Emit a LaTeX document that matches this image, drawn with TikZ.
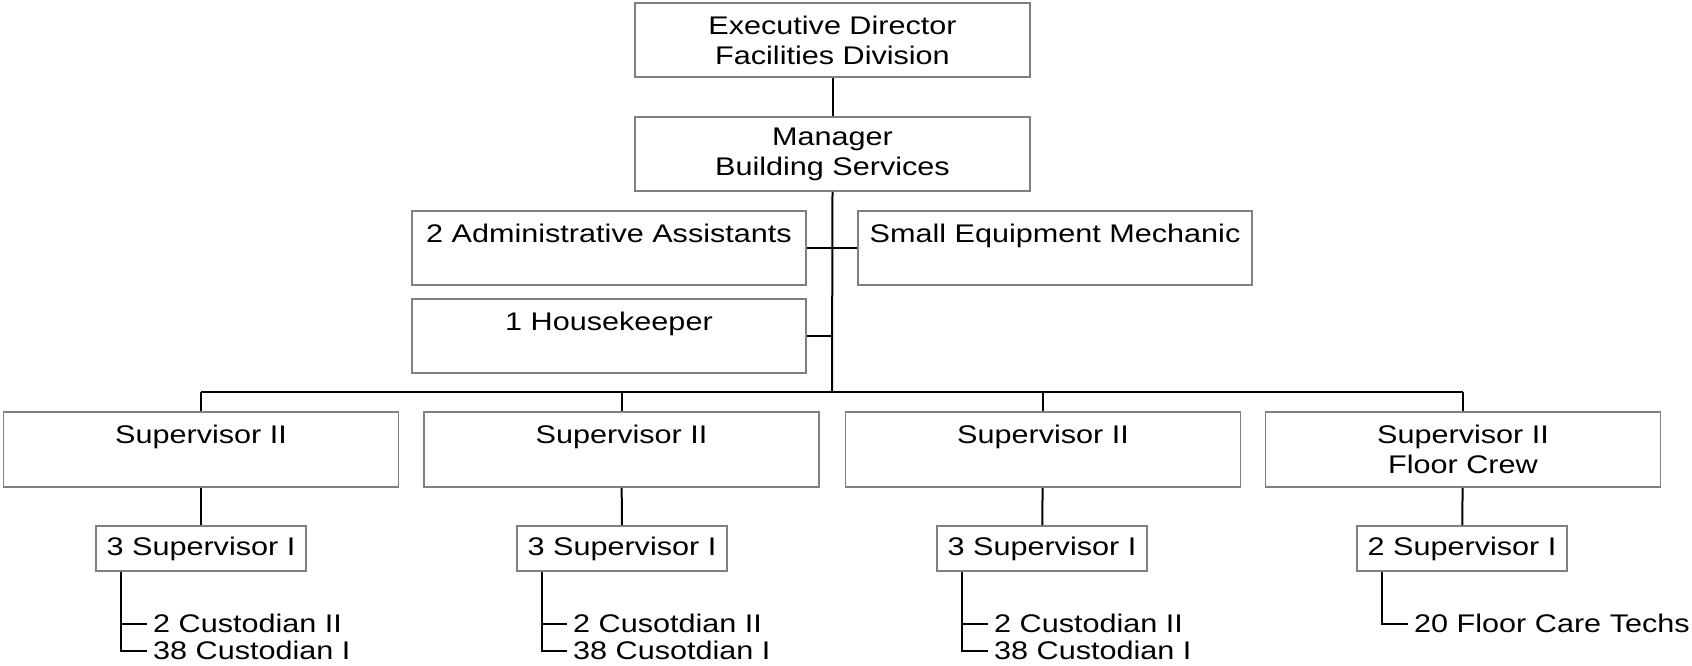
\documentclass[tikz,border=0pt]{standalone}
\usepackage{fontspec}
\setmainfont{Liberation Sans}[FakeStretch=1.2]
\usetikzlibrary{calc}
\definecolor{boxgray}{HTML}{808080}
\begin{document}
\begin{tikzpicture}[x=1pt,y=1pt,
  every node/.style={font=\fontsize{25.5}{30}\selectfont, text=black},
  orgbox/.style={draw=boxgray, line width=1.8pt, fill=white, inner sep=0pt,
                 align=center, minimum width=395, minimum height=74},
  smallbox/.style={draw=boxgray, line width=1.8pt, fill=white, inner sep=0pt,
                   align=center, minimum width=210, minimum height=45},
  leaf/.style={anchor=west, inner xsep=6pt, inner ysep=0pt, text height=16pt, text depth=0pt},
  link/.style={draw=black, line width=2pt}]
\useasboundingbox (0,0) rectangle (1692,-665);

% top of the chart
\node[orgbox] (exec) at (832.5,-40) {Executive Director\\Facilities Division};
\node[orgbox] (mgr)  at (832.5,-154) {Manager\\Building Services};

% staff attached to the manager
\node[orgbox, minimum width=394] (admin) at (609,-248) {2 Administrative Assistants\\\mbox{}};
\node[orgbox, minimum width=394] (hk)    at (609,-336) {1 Housekeeper\\\mbox{}};
\node[orgbox, minimum width=394] (sem)   at (1055,-248) {Small Equipment Mechanic\\\mbox{}};

% supervisors II
\node[orgbox, minimum height=75] (s1) at (201,-449.5)  {Supervisor II\\\mbox{}};
\node[orgbox, minimum height=75] (s2) at (621.5,-449.5) {Supervisor II\\\mbox{}};
\node[orgbox, minimum height=75] (s3) at (1043,-449.5) {Supervisor II\\\mbox{}};
\node[orgbox, minimum height=75] (s4) at (1463,-449.5) {Supervisor II\\Floor Crew};

% supervisors I
\node[smallbox] (t1) at (201,-548.5)  {3 Supervisor I};
\node[smallbox] (t2) at (622,-548.5)  {3 Supervisor I};
\node[smallbox] (t3) at (1042,-548.5) {3 Supervisor I};
\node[smallbox] (t4) at (1462,-548.5) {2 Supervisor I};

% staff lists
\node[leaf] (c1a) at (147,-624) {2 Custodian II};
\node[leaf] (c1b) at (147,-651) {38 Custodian I};
\node[leaf] (c2a) at (567,-624) {2 Cusotdian II};
\node[leaf] (c2b) at (567,-651) {38 Cusotdian I};
\node[leaf] (c3a) at (988,-624) {2 Custodian II};
\node[leaf] (c3b) at (988,-651) {38 Custodian I};
\node[leaf] (c4a) at (1408,-624) {20 Floor Care Techs};

% trunk and bus
\coordinate (bus) at (832,-392);
\draw[link] (exec) -- (mgr);
\draw[link] (mgr.south) -- (bus);
\draw[link] (admin.east) -- (sem.west);
\draw[link] (hk.east) -- (hk.east -| bus);
\draw[link] (bus -| s1.north) -- (bus -| s4.north);
\foreach \s in {s1,s2,s3,s4} \draw[link] (bus -| \s.north) -- (\s.north);

% supervisor II to supervisor I
\foreach \s/\t in {s1/t1,s2/t2,s3/t3,s4/t4} \draw[link] (\s) -- (\t);

% branches to the staff lists
\foreach \t/\a/\b in {t1/c1a/c1b,t2/c2a/c2b,t3/c3a/c3b} {
  \coordinate (br) at ($(\t.south west)+(26,0)$);
  \draw[link] (br) |- (\b.west);
  \draw[link] (br |- \a.west) -- (\a.west);
}
\coordinate (br4) at ($(t4.south west)+(26,0)$);
\draw[link] (br4) |- (c4a.west);
\end{tikzpicture}
\end{document}
